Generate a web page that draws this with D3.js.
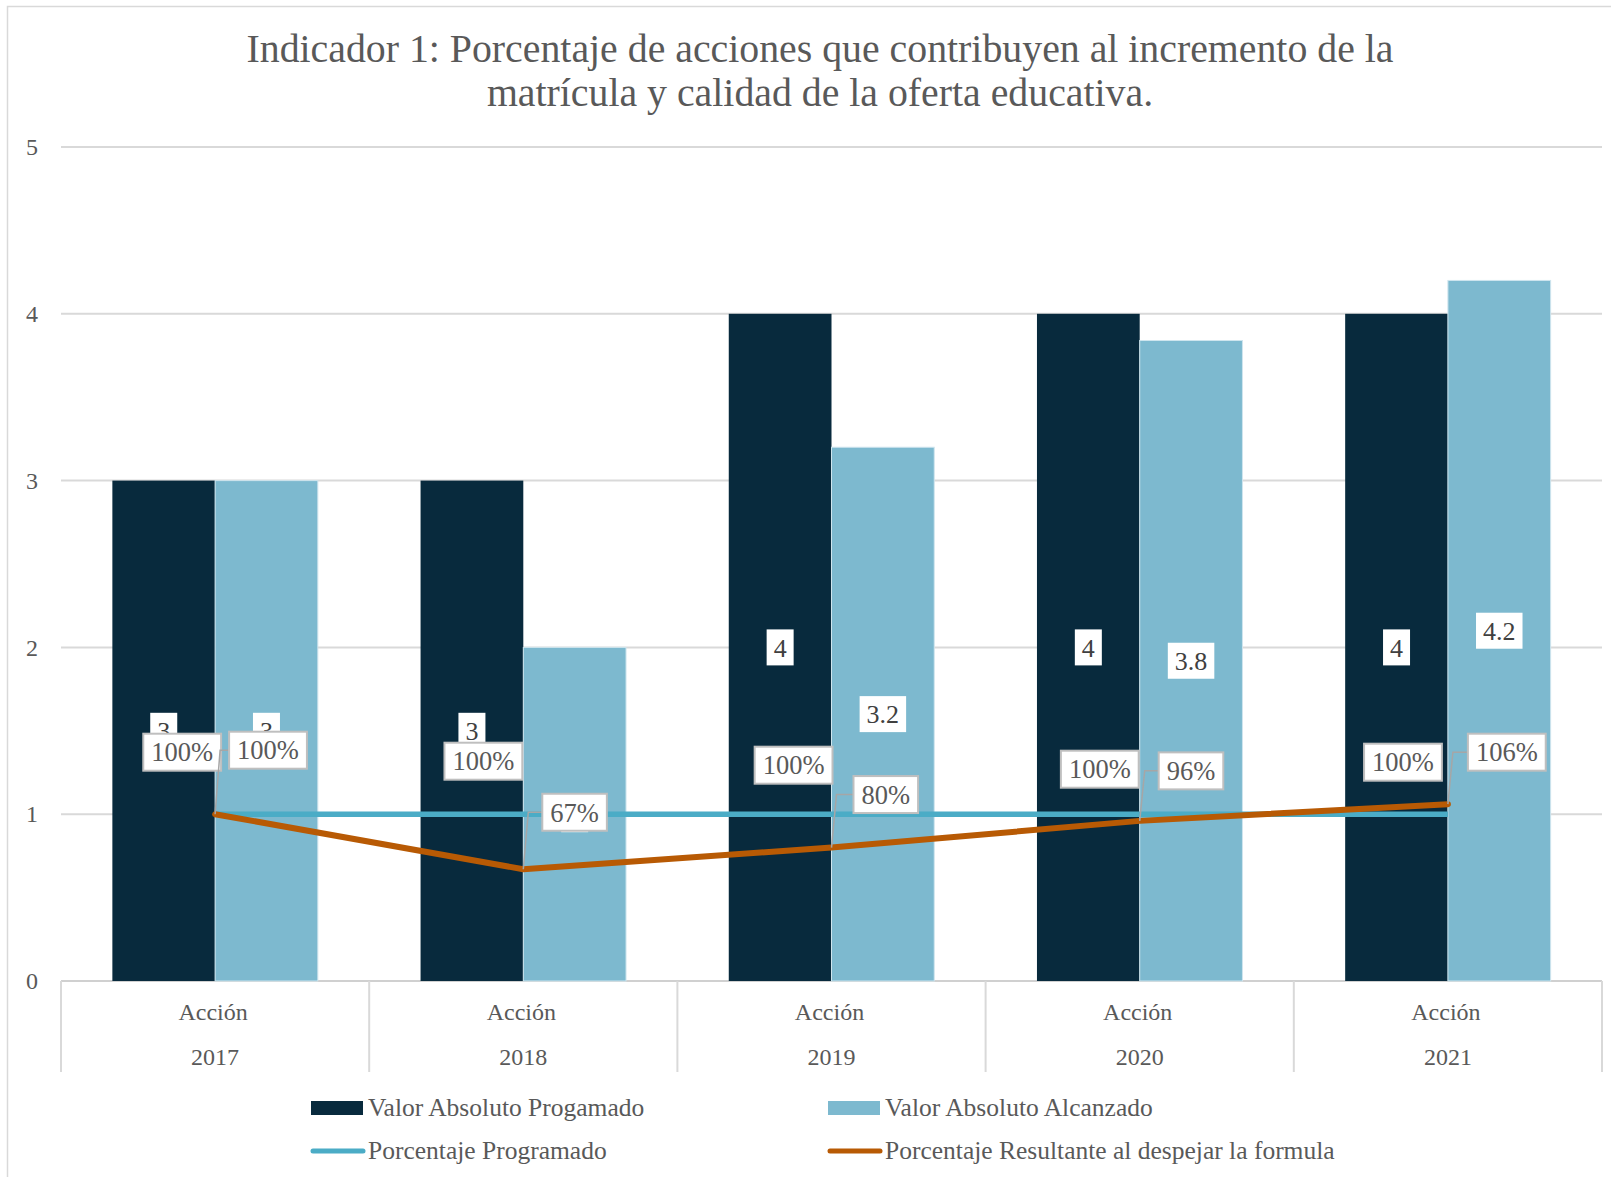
<!DOCTYPE html>
<html>
<head>
<meta charset="utf-8">
<style>
  body { margin: 0; background: #fff; }
  svg text { font-family: "Liberation Serif", "DejaVu Serif", serif; fill: #595959; }
</style>
</head>
<body>
<script src="https://d3js.org/d3.v7.min.js"></script>
<script>

// chart data
var years = ['2017', '2018', '2019', '2020', '2021'],
    categoryPrefix = 'Acción',
    valorProgramado = [3, 3, 4, 4, 4],
    valorAlcanzado = [3, 2, 3.2, 3.84, 4.2],
    pctProgramado = [1, 1, 1, 1, 1],
    pctResultante = [1, 0.67, 0.8, 0.96, 1.06],
    yTicks = [0, 1, 2, 3, 4, 5];

var titleLines = ['Indicador 1: Porcentaje de acciones que contribuyen al incremento de la',
                  'matrícula y calidad de la oferta educativa.'];

var seriesNames = ['Valor Absoluto Progamado', 'Valor Absoluto Alcanzado',
                   'Porcentaje Programado', 'Porcentaje Resultante al despejar la formula'];

// hand-placed label nudges (px, relative to the line point), as in the original
var progLabelNudge = [[6, -62], [-1, -53], [1, -49], [-1, -45], [-6, -52]],
    resLabelNudge = [[14, -64], [19, -57], [22, -53], [19, -50], [20, -52]];

var darkBar = '#082a3d',
    lightBar = '#7db9cf',
    blueLine = '#4bacc6',
    orangeLine = '#b85a04',
    gridColor = '#d9d9d9',
    labelBorder = '#bfbfbf',
    leaderColor = '#a6a6a6';

var width = 1611,
    height = 1177;

var svg = d3.select('body').append('svg')
    .attr('width', width)
    .attr('height', height);

// chart frame
svg.append('rect')
    .attr('x', 7.5).attr('y', 6.5)
    .attr('width', width + 20).attr('height', height + 20)
    .attr('fill', 'none')
    .attr('stroke', gridColor)
    .attr('stroke-width', 1.5);

var x = d3.scaleBand()
    .domain(years)
    .range([61, 1602]);

var xSub = d3.scaleBand()
    .domain(['prog', 'alc'])
    .range([0, x.bandwidth()])
    .paddingOuter(0.5);

var y = d3.scaleLinear()
    .domain([0, 5])
    .range([981, 147]);

var fmtVal = d3.format('.2~r'),
    fmtPct = d3.format('.0%');

// title
svg.append('g').selectAll('text')
    .data(titleLines)
  .enter().append('text')
    .attr('x', 820)
    .attr('y', function(d, i) { return 62 + i * 44; })
    .attr('text-anchor', 'middle')
    .style('font-size', '39.8px')
    .text(function(d) { return d; });

// gridlines
svg.append('g').selectAll('line')
    .data(yTicks.filter(function(d) { return d > 0; }))
  .enter().append('line')
    .attr('x1', 61).attr('x2', 1602)
    .attr('y1', function(d) { return y(d); })
    .attr('y2', function(d) { return y(d); })
    .attr('stroke', gridColor)
    .attr('stroke-width', 2);

// y axis labels
var yAxis = d3.axisLeft(y).tickValues(yTicks).tickFormat(d3.format('d'))
    .tickSize(0).tickPadding(23);
svg.append('g')
    .attr('transform', 'translate(61,0)')
    .call(yAxis)
    .call(function(g) { g.select('.domain').remove(); })
    .selectAll('text')
    .attr('font-family', null)
    .style('font-size', '24px')
    .style('fill', '#595959');

// category axis
var xAxis = d3.axisBottom(x).tickSize(0).tickFormat(function() { return ''; });
var xg = svg.append('g')
    .attr('transform', 'translate(0,' + y(0) + ')')
    .call(xAxis);
xg.select('.domain').remove();
xg.append('line')
    .attr('x1', 61).attr('x2', 1602)
    .attr('stroke', '#d0d0d0').attr('stroke-width', 2);
xg.selectAll('.sep')
    .data(d3.range(years.length + 1))
  .enter().append('line')
    .attr('class', 'sep')
    .attr('x1', function(i) { return 61 + i * x.step(); })
    .attr('x2', function(i) { return 61 + i * x.step(); })
    .attr('y1', 0).attr('y2', 91)
    .attr('stroke', gridColor).attr('stroke-width', 2);
xg.selectAll('.tick').each(function(d) {
  var t = d3.select(this).select('text');
  t.attr('y', 0).attr('dy', null).text(null)
    .style('font-size', '24px').attr('font-family', null);
  t.append('tspan').attr('x', -2).attr('y', 39).text(categoryPrefix);
  t.append('tspan').attr('x', 0).attr('y', 84).text(d);
});

// bars
var barRows = years.map(function(yr, i) {
  return { year: yr, prog: valorProgramado[i], alc: valorAlcanzado[i] };
});

var groups = svg.append('g').selectAll('g')
    .data(barRows)
  .enter().append('g')
    .attr('transform', function(d) { return 'translate(' + x(d.year) + ',0)'; });

groups.selectAll('rect')
    .data(function(d) { return [{ key: 'prog', v: d.prog }, { key: 'alc', v: d.alc }]; })
  .enter().append('rect')
    .attr('x', function(d) { return xSub(d.key); })
    .attr('width', xSub.bandwidth())
    .attr('y', function(d) { return y(d.v); })
    .attr('height', function(d) { return y(0) - y(d.v); })
    .attr('fill', function(d) { return d.key === 'prog' ? darkBar : lightBar; })
    .attr('stroke', function(d) { return d.key === 'prog' ? 'none' : '#cfe5ee'; })
    .attr('stroke-width', 1);

// bar value labels (white boxes, centred in bar)
var barLabels = groups.selectAll('g.bl')
    .data(function(d) { return [{ key: 'prog', v: d.prog }, { key: 'alc', v: d.alc }]; })
  .enter().append('g')
    .attr('class', 'bl')
    .attr('transform', function(d) {
      return 'translate(' + (xSub(d.key) + xSub.bandwidth() / 2) + ',' + y(d.v / 2) + ')';
    });
barLabels.append('text')
    .attr('text-anchor', 'middle')
    .attr('dy', '0.35em')
    .style('font-size', '26px')
    .style('fill', '#404040')
    .text(function(d) { return fmtVal(d.v); });
barLabels.each(function() {
  var g = d3.select(this),
      bb = g.select('text').node().getBBox();
  g.insert('rect', 'text')
    .attr('x', bb.x - 7).attr('width', bb.width + 14)
    .attr('y', -18).attr('height', 36)
    .attr('fill', '#fff');
});

// lines
var cx = function(i) { return x(years[i]) + x.bandwidth() / 2; };
var line = d3.line()
    .x(function(d, i) { return cx(i); })
    .y(function(d) { return y(d); });

svg.append('path')
    .datum(pctProgramado)
    .attr('d', line)
    .attr('fill', 'none')
    .attr('stroke', blueLine)
    .attr('stroke-width', 5.5);

svg.append('path')
    .datum(pctResultante)
    .attr('d', line)
    .attr('fill', 'none')
    .attr('stroke', orangeLine)
    .attr('stroke-width', 6)
    .attr('stroke-linecap', 'round')
    .attr('stroke-linejoin', 'round');

// percentage labels
function labelWidth(txt) {
  var tmp = svg.append('text').style('font-size', '26.5px').text(txt);
  var w = tmp.node().getComputedTextLength() + 16;
  tmp.remove();
  return w;
}

function pctLabel(cxv, cyv, txt, w) {
  var g = svg.append('g').attr('transform', 'translate(' + cxv + ',' + cyv + ')');
  g.append('rect')
    .attr('x', -w / 2).attr('width', w)
    .attr('y', -18.5).attr('height', 37)
    .attr('fill', '#fff')
    .attr('stroke', labelBorder)
    .attr('stroke-width', 2);
  g.append('text')
    .attr('text-anchor', 'middle')
    .attr('dy', '0.35em')
    .style('font-size', '26.5px')
    .text(txt);
}

// programado labels sit left-above of the point
pctProgramado.forEach(function(v, i) {
  var px = cx(i) + progLabelNudge[i][0],
      py = y(v) + progLabelNudge[i][1],
      w = labelWidth(fmtPct(v));
  pctLabel(px - w / 2, py, fmtPct(v), w);
});

// resultante labels sit right-above with leader lines
pctResultante.forEach(function(v, i) {
  var px = cx(i), py = y(v),
      left = px + resLabelNudge[i][0],
      ly = py + resLabelNudge[i][1],
      w = labelWidth(fmtPct(v));
  svg.append('polyline')
    .attr('points', [[px, py], [px + 5, ly], [left, ly]].join(' '))
    .attr('fill', 'none')
    .attr('stroke', leaderColor)
    .attr('stroke-width', 1.5);
  pctLabel(left + w / 2, ly, fmtPct(v), w);
});

// legend
var legendItems = [
  { name: seriesNames[0], type: 'bar', color: darkBar, x: 311, y: 1108 },
  { name: seriesNames[1], type: 'bar', color: lightBar, x: 828, y: 1108 },
  { name: seriesNames[2], type: 'line', color: blueLine, x: 311, y: 1151 },
  { name: seriesNames[3], type: 'line', color: orangeLine, x: 828, y: 1151 }
];

var lg = svg.append('g').selectAll('g')
    .data(legendItems)
  .enter().append('g')
    .attr('transform', function(d) { return 'translate(' + d.x + ',' + d.y + ')'; });

lg.filter(function(d) { return d.type === 'bar'; })
  .append('rect')
    .attr('x', 0).attr('y', -7)
    .attr('width', 52).attr('height', 14)
    .attr('fill', function(d) { return d.color; });

lg.filter(function(d) { return d.type === 'line'; })
  .append('line')
    .attr('x1', 2).attr('x2', 52)
    .attr('stroke', function(d) { return d.color; })
    .attr('stroke-width', 5)
    .attr('stroke-linecap', 'round');

lg.append('text')
    .attr('x', 57)
    .attr('dy', '0.33em')
    .style('font-size', '25.5px')
    .text(function(d) { return d.name; });

</script>
</body>
</html>
